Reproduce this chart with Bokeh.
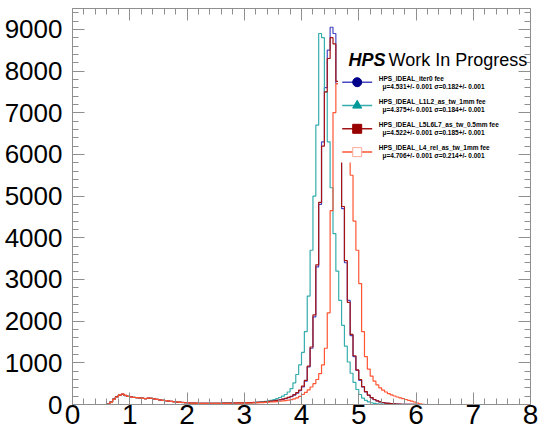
import numpy as np
from bokeh.plotting import figure
from bokeh.models import (Range1d, LinearAxis, SingleIntervalTicker, Label,
                          CustomJSTickFormatter)
from bokeh.embed import file_html
from bokeh.resources import INLINE

# ---------------- data ----------------
BIN_LO = 0.0
BIN_W = 0.05
N_BINS = 160
FIRST_LISTED_BIN = 10          # listed counts start at x = 0.50

names = ["HPS_IDEAL_iter0 fee",
         "HPS_IDEAL_L1L2_as_tw_1mm fee",
         "HPS_IDEAL_L5L6L7_as_tw_0.5mm fee",
         "HPS_IDEAL_L4_rel_as_tw_1mm fee"]
stats = ["\u03bc=4.531+/- 0.001  \u03c3=0.182+/- 0.001",
         "\u03bc=4.375+/- 0.001  \u03c3=0.184+/- 0.001",
         "\u03bc=4.522+/- 0.001  \u03c3=0.185+/- 0.001",
         "\u03bc=4.706+/- 0.001  \u03c3=0.214+/- 0.001"]

# counts for bins 0.50 ... 2.95
low_iter0 = [0, 0, 8, 60, 130, 185, 225, 245, 215, 195,
             180, 170, 165, 158, 150, 140, 150, 148, 135, 122,
             112, 100, 92, 82, 74, 66, 60, 54, 48, 44,
             40, 36, 33, 30, 28, 27, 26, 26, 27, 28,
             29, 30, 31, 32, 33, 34, 35, 36, 38, 40]
low_l1l2 = [0, 0, 6, 55, 128, 182, 228, 240, 212, 192,
            178, 172, 162, 160, 148, 142, 148, 146, 132, 120,
            110, 98, 90, 80, 72, 64, 58, 52, 47, 43,
            39, 35, 32, 30, 28, 27, 26, 27, 27, 28,
            29, 30, 31, 32, 33, 34, 35, 36, 37, 38]
low_l5l6l7 = [0, 0, 7, 58, 132, 188, 222, 248, 218, 193,
              182, 168, 166, 156, 152, 138, 152, 147, 136, 121,
              113, 101, 91, 83, 73, 67, 59, 55, 49, 44,
              41, 36, 34, 31, 29, 27, 26, 26, 28, 28,
              30, 30, 32, 32, 34, 34, 36, 37, 39, 41]
low_l4 = [0, 0, 5, 52, 126, 180, 230, 252, 220, 196,
          176, 171, 163, 159, 149, 141, 151, 150, 134, 123,
          111, 99, 93, 81, 75, 65, 61, 53, 48, 42,
          38, 35, 32, 29, 27, 26, 25, 25, 26, 27,
          27, 28, 28, 29, 29, 30, 30, 31, 31, 32]

# counts for bins 3.00 ... 6.45
high_iter0 = [40, 42, 44, 47, 50, 54, 58, 63, 70, 78,
              87, 97, 110, 125, 143, 165, 190, 225, 270, 330,
              420, 560, 900, 1350, 2100, 3300, 4800, 6300, 7600, 8500,
              9050, 8900, 7700, 5900, 4700, 3400, 2500, 1650, 1150, 820,
              580, 420, 300, 220, 160, 115, 85, 62, 46, 34,
              25, 18, 13, 9, 6, 4, 3, 2, 1, 1,
              0, 0, 0, 0, 0, 0, 0, 0, 0, 0]
high_l1l2 = [38, 40, 44, 48, 52, 58, 65, 75, 85, 100,
             118, 140, 168, 200, 240, 300, 380, 520, 720, 950,
             1250, 1750, 2600, 3700, 5000, 6700, 8900, 8800, 7500, 6300,
             5200, 4100, 3200, 2500, 1900, 1400, 1020, 750, 530, 360,
             240, 155, 100, 64, 42, 27, 17, 11, 7, 4,
             3, 2, 1, 1, 0, 0, 0, 0, 0, 0,
             0, 0, 0, 0, 0, 0, 0, 0, 0, 0]
high_l5l6l7 = [42, 44, 46, 49, 52, 56, 60, 66, 73, 81,
               90, 101, 114, 130, 148, 172, 198, 235, 285, 345,
               440, 580, 920, 1380, 2150, 3350, 4850, 6200, 7500, 8300,
               8800, 8650, 7750, 6000, 4750, 3450, 2450, 1680, 1170, 830,
               600, 430, 310, 225, 165, 120, 88, 65, 48, 35,
               26, 19, 14, 10, 7, 5, 3, 2, 1, 1,
               0, 0, 0, 0, 0, 0, 0, 0, 0, 0]
high_l4 = [32, 34, 36, 38, 41, 44, 47, 51, 55, 60,
           65, 71, 78, 86, 95, 105, 118, 135, 160, 195,
           240, 290, 350, 420, 500, 600, 740, 950, 1350, 2200,
           4650, 7000, 7700, 8000, 7800, 7200, 6400, 5500, 4400, 3700,
           2900, 1750, 1150, 850, 680, 560, 470, 400, 345, 300,
           262, 230, 204, 180, 160, 140, 120, 100, 80, 60,
           35, 15, 4, 0, 0, 0, 0, 0, 0, 0]

line_colors = ["#4848c4", "#35adad", "#a51414", "#ff5533"]
marker_fill = ["#00008b", "#009999", "#990000", "white"]
marker_line = ["#00008b", "#009999", "#990000", "#ffaa99"]
markers = ["circle", "triangle", "square", "square"]

series = [low_iter0 + high_iter0, low_l1l2 + high_l1l2,
          low_l5l6l7 + high_l5l6l7, low_l4 + high_l4]

# ---------------- figure ----------------
W, H = 542, 434
L, R, T, B = 72, 12, 8, 30
XMAX, YMAX = 8.0, 9500.0

p = figure(width=W, height=H, output_backend="svg", toolbar_location=None,
           x_range=Range1d(0, XMAX), y_range=Range1d(0, YMAX),
           min_border_left=L, min_border_right=R, min_border_top=T,
           min_border_bottom=B, x_axis_location=None, y_axis_location=None)
p.grid.visible = False
p.outline_line_color = None
p.background_fill_color = "white"
p.border_fill_color = "white"

AX_COL = "#8f8f8f"


def style_axis(ax, labels=True, font_size="26px", standoff=10):
    ax.axis_line_color = AX_COL
    ax.major_tick_line_color = AX_COL
    ax.minor_tick_line_color = AX_COL
    ax.major_tick_in = 12
    ax.major_tick_out = 0
    ax.minor_tick_in = 6
    ax.minor_tick_out = 0
    ax.major_label_text_font = "Liberation Sans"
    ax.major_label_text_color = "black"
    if labels:
        ax.major_label_text_font_size = font_size
        ax.major_label_standoff = standoff
    else:
        ax.formatter = CustomJSTickFormatter(code="return ''")
        ax.major_label_standoff = 0


xb = LinearAxis(ticker=SingleIntervalTicker(interval=1, num_minor_ticks=5))
style_axis(xb, True, "28px", 0)
p.add_layout(xb, "below")
xt = LinearAxis(ticker=SingleIntervalTicker(interval=1, num_minor_ticks=5))
style_axis(xt, False)
p.add_layout(xt, "above")
yl = LinearAxis(ticker=SingleIntervalTicker(interval=1000, num_minor_ticks=5))
style_axis(yl, True, "26px", 10)
p.add_layout(yl, "left")
yr = LinearAxis(ticker=SingleIntervalTicker(interval=1000, num_minor_ticks=5))
style_axis(yr, False)
p.add_layout(yr, "right")

edges = BIN_LO + BIN_W * np.arange(N_BINS + 1)
for vals, col in zip(series, line_colors):
    counts = np.zeros(N_BINS)
    counts[FIRST_LISTED_BIN:FIRST_LISTED_BIN + len(vals)] = vals
    yv = np.append(counts, counts[-1])
    p.step(x=edges, y=yv, mode="after", line_color=col, line_width=1.2)

# ---------------- legend (pixel layout -> data coords) ----------------
fw = W - L - R
fh = H - T - B


def X(px):
    return (px - L) * XMAX / fw


def Y(py):
    return (H - B - py) * YMAX / fh


p.quad(left=[X(337.5)], right=[XMAX], top=[Y(66)], bottom=[Y(162)],
       fill_color="white", line_color=None)

for i in range(4):
    ym = Y(81.7 + 23.3 * i)
    p.line(x=[X(341.7), X(371.7)], y=[ym, ym], line_color=line_colors[i],
           line_width=1.5)
    p.scatter(x=[X(356.7)], y=[ym], marker=markers[i], size=9,
              fill_color=marker_fill[i], line_color=marker_line[i],
              line_width=1)
    p.add_layout(Label(x=X(378.3), y=Y(77.5 + 23.2 * i), text=names[i],
                       text_font="Liberation Sans", text_font_size="6.5px",
                       text_font_style="bold", text_baseline="middle",
                       text_color="black"))
    p.add_layout(Label(x=X(382.0), y=Y(86.0 + 23.1 * i), text=stats[i],
                       text_font="Liberation Sans", text_font_size="6.5px",
                       text_font_style="bold", text_baseline="middle",
                       text_color="black"))

p.add_layout(Label(x=X(348), y=Y(59.3), text="HPS", text_font="Liberation Sans",
                   text_font_size="18px", text_font_style="bold italic",
                   text_baseline="alphabetic", text_color="black"))
p.add_layout(Label(x=X(388), y=Y(59.3), text="Work In Progress",
                   text_font="Liberation Sans", text_font_size="18px",
                   text_baseline="alphabetic", text_color="black"))

open("out.html", "w").write(file_html(p, INLINE))
